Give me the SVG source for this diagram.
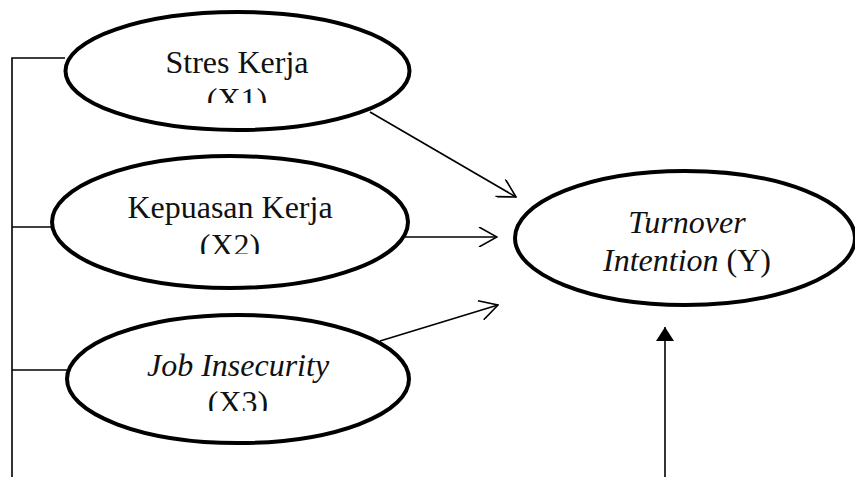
<svg xmlns="http://www.w3.org/2000/svg" width="855" height="477" viewBox="0 0 855 477">
<style>
.node ellipse{fill:#fff;stroke:#000;stroke-width:4}
.lbl{font-family:"Liberation Serif","Times New Roman",serif;font-size:32px;fill:#111;text-anchor:middle}
.it{font-style:italic}
.conn line,.conn polyline{stroke:#000;stroke-width:1.6;fill:none}
</style>
<defs>
<marker id="open" viewBox="0 0 20 20" refX="19" refY="10" markerWidth="20" markerHeight="20" markerUnits="userSpaceOnUse" orient="auto">
<polyline points="1,0 19,10 1,20" fill="none" stroke="#000" stroke-width="1.6"/>
</marker>
<marker id="solid" viewBox="0 0 18 14" refX="9" refY="0" markerWidth="18" markerHeight="14" markerUnits="userSpaceOnUse" orient="0">
<polygon points="9,0 18,14 0,14" fill="#000"/>
</marker>
<clipPath id="c1"><rect x="0" y="0" width="855" height="103"/></clipPath>
<clipPath id="c2"><rect x="0" y="0" width="855" height="254"/></clipPath>
<clipPath id="c3"><rect x="0" y="0" width="855" height="411"/></clipPath>
</defs>
<g class="conn">
<polyline points="65,58 12,58 12,477"/>
<line x1="12" y1="227" x2="52" y2="227"/>
<line x1="12" y1="370" x2="67" y2="370"/>
<line x1="370" y1="112" x2="516" y2="197" marker-end="url(#open)"/>
<line x1="403" y1="237" x2="497" y2="237" marker-end="url(#open)"/>
<line x1="380" y1="341" x2="498" y2="305" marker-end="url(#open)"/>
<line x1="665" y1="477" x2="665" y2="327" marker-end="url(#solid)"/>
</g>
<g id="x1" class="node">
<ellipse cx="237.5" cy="71" rx="172" ry="59"/>
<g clip-path="url(#c1)">
<text class="lbl" x="237" y="73">Stres Kerja</text>
<text class="lbl" x="237" y="110">(X1)</text>
</g>
</g>
<g id="x2" class="node">
<ellipse cx="230" cy="222" rx="178" ry="66"/>
<g clip-path="url(#c2)">
<text class="lbl" x="230" y="218">Kepuasan Kerja</text>
<text class="lbl" x="230" y="256">(X2)</text>
</g>
</g>
<g id="x3" class="node">
<ellipse cx="238" cy="379" rx="171" ry="64"/>
<g clip-path="url(#c3)">
<text class="lbl it" x="238" y="376">Job Insecurity</text>
<text class="lbl" x="238" y="413">(X3)</text>
</g>
</g>
<g id="y" class="node">
<ellipse cx="685" cy="238" rx="170" ry="67"/>
<text class="lbl it" x="687" y="233">Turnover</text>
<text class="lbl" x="687" y="271"><tspan class="it">Intention</tspan> (Y)</text>
</g>
</svg>
